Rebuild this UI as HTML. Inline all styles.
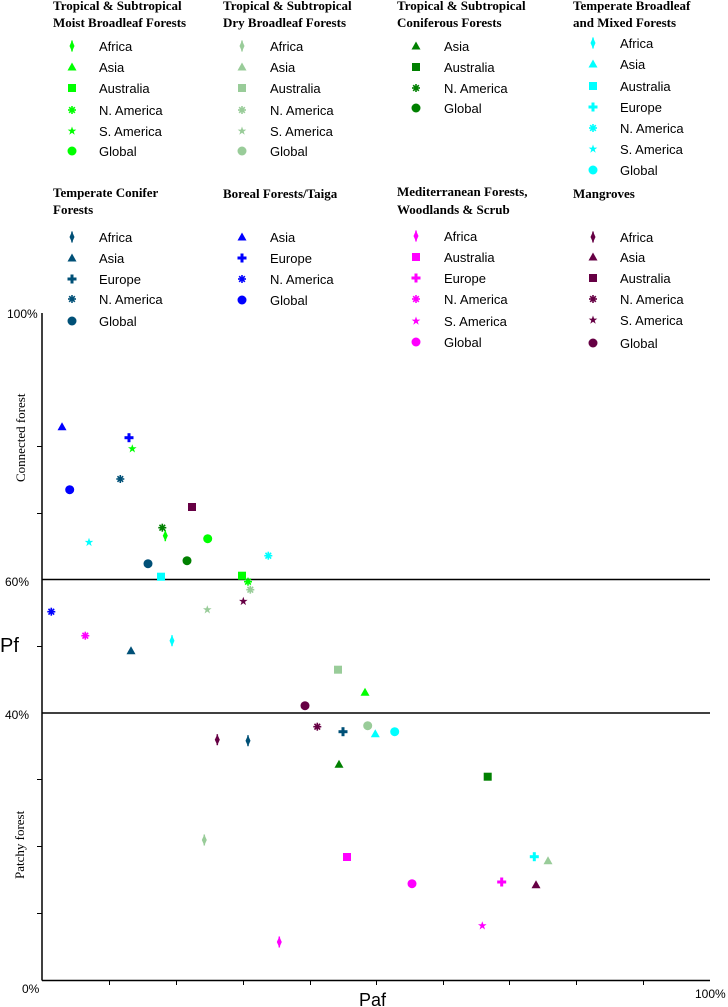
<!DOCTYPE html>
<html><head><meta charset="utf-8"><style>
html,body{margin:0;padding:0;background:#fff;}
svg{display:block;}
.t{font-family:"Liberation Serif",serif;font-weight:bold;font-size:13px;fill:#000;}
.l{font-family:"Liberation Sans",sans-serif;font-size:13px;fill:#000;}
.a{font-family:"Liberation Sans",sans-serif;font-size:12px;fill:#000;}
.s{font-family:"Liberation Serif",serif;font-size:13px;fill:#000;}
</style></head><body>
<svg width="728" height="1007" viewBox="0 0 728 1007" xmlns="http://www.w3.org/2000/svg">
<defs>
<g id="sq"><rect x="-4" y="-4" width="8" height="8"/></g>
<g id="ci"><circle cx="0" cy="0" r="4.5"/></g>
<g id="tr"><polygon points="0,-4.5 4.5,3.5 -4.5,3.5"/></g>
<g id="di"><polygon points="0,-5.5 2.5,0 0,5.5 -2.5,0"/><rect x="-0.75" y="-5.5" width="1.5" height="11"/></g>
<g id="pl"><rect x="-4.5" y="-1.5" width="9" height="3"/><rect x="-1.5" y="-4.5" width="3" height="9"/></g>
<g id="as"><rect x="-0.8" y="-4" width="1.6" height="8"/><rect x="-4" y="-0.8" width="8" height="1.6"/><rect x="-0.8" y="-4" width="1.6" height="8" transform="rotate(45)"/><rect x="-0.8" y="-4" width="1.6" height="8" transform="rotate(-45)"/><circle r="1.8"/></g>
<g id="st"><polygon points="0,-4.5 1.1,-1.4 4.3,-1.4 1.7,0.6 2.7,3.8 0,1.8 -2.7,3.8 -1.7,0.6 -4.3,-1.4 -1.1,-1.4"/></g>
</defs>

<!-- Legend row 1 -->
<text class="t" x="53" y="10">Tropical &amp; Subtropical</text>
<text class="t" x="53" y="27">Moist Broadleaf Forests</text>
<g fill="#00FF00">
<use href="#di" x="72" y="46"/><use href="#tr" x="72" y="67"/><use href="#sq" x="72" y="88"/><use href="#as" x="72" y="110"/><use href="#st" x="72" y="131"/><use href="#ci" x="72" y="151"/>
</g>
<text class="l" x="99" y="51">Africa</text><text class="l" x="99" y="72">Asia</text><text class="l" x="99" y="93">Australia</text><text class="l" x="99" y="115">N. America</text><text class="l" x="99" y="136">S. America</text><text class="l" x="99" y="156">Global</text>

<text class="t" x="223" y="10">Tropical &amp; Subtropical</text>
<text class="t" x="223" y="27">Dry Broadleaf Forests</text>
<g fill="#99CC99">
<use href="#di" x="242" y="46"/><use href="#tr" x="242" y="67"/><use href="#sq" x="242" y="88"/><use href="#as" x="242" y="110"/><use href="#st" x="242" y="131"/><use href="#ci" x="242" y="151"/>
</g>
<text class="l" x="270" y="51">Africa</text><text class="l" x="270" y="72">Asia</text><text class="l" x="270" y="93">Australia</text><text class="l" x="270" y="115">N. America</text><text class="l" x="270" y="136">S. America</text><text class="l" x="270" y="156">Global</text>

<text class="t" x="397" y="10">Tropical &amp; Subtropical</text>
<text class="t" x="397" y="27">Coniferous Forests</text>
<g fill="#008000">
<use href="#tr" x="416" y="46"/><use href="#sq" x="416" y="67"/><use href="#as" x="416" y="88"/><use href="#ci" x="416" y="108"/>
</g>
<text class="l" x="444" y="51">Asia</text><text class="l" x="444" y="72">Australia</text><text class="l" x="444" y="93">N. America</text><text class="l" x="444" y="113">Global</text>

<text class="t" x="573" y="10">Temperate Broadleaf</text>
<text class="t" x="573" y="27">and Mixed Forests</text>
<g fill="#00FFFF">
<use href="#di" x="593" y="43"/><use href="#tr" x="593" y="64"/><use href="#sq" x="593" y="86"/><use href="#pl" x="593" y="107"/><use href="#as" x="593" y="128"/><use href="#st" x="593" y="149"/><use href="#ci" x="593" y="170"/>
</g>
<text class="l" x="620" y="48">Africa</text><text class="l" x="620" y="69">Asia</text><text class="l" x="620" y="91">Australia</text><text class="l" x="620" y="112">Europe</text><text class="l" x="620" y="133">N. America</text><text class="l" x="620" y="154">S. America</text><text class="l" x="620" y="175">Global</text>

<!-- Legend row 2 -->
<text class="t" x="53" y="197">Temperate Conifer</text>
<text class="t" x="53" y="214">Forests</text>
<g fill="#005077">
<use href="#di" x="72" y="237"/><use href="#tr" x="72" y="258"/><use href="#pl" x="72" y="279"/><use href="#as" x="72" y="299"/><use href="#ci" x="72" y="321"/>
</g>
<text class="l" x="99" y="242">Africa</text><text class="l" x="99" y="263">Asia</text><text class="l" x="99" y="284">Europe</text><text class="l" x="99" y="304">N. America</text><text class="l" x="99" y="326">Global</text>

<text class="t" x="223" y="198">Boreal Forests/Taiga</text>
<g fill="#0000FF">
<use href="#tr" x="242" y="237"/><use href="#pl" x="242" y="258"/><use href="#as" x="242" y="279"/><use href="#ci" x="242" y="300"/>
</g>
<text class="l" x="270" y="242">Asia</text><text class="l" x="270" y="263">Europe</text><text class="l" x="270" y="284">N. America</text><text class="l" x="270" y="305">Global</text>

<text class="t" x="397" y="196">Mediterranean Forests,</text>
<text class="t" x="397" y="214">Woodlands &amp; Scrub</text>
<g fill="#FF00FF">
<use href="#di" x="416" y="236"/><use href="#sq" x="416" y="257"/><use href="#pl" x="416" y="278"/><use href="#as" x="416" y="299"/><use href="#st" x="416" y="321"/><use href="#ci" x="416" y="342"/>
</g>
<text class="l" x="444" y="241">Africa</text><text class="l" x="444" y="262">Australia</text><text class="l" x="444" y="283">Europe</text><text class="l" x="444" y="304">N. America</text><text class="l" x="444" y="326">S. America</text><text class="l" x="444" y="347">Global</text>

<text class="t" x="573" y="198">Mangroves</text>
<g fill="#660044">
<use href="#di" x="593" y="237"/><use href="#tr" x="593" y="257"/><use href="#sq" x="593" y="278"/><use href="#as" x="593" y="299"/><use href="#st" x="593" y="320"/><use href="#ci" x="593" y="343"/>
</g>
<text class="l" x="620" y="242">Africa</text><text class="l" x="620" y="262">Asia</text><text class="l" x="620" y="283">Australia</text><text class="l" x="620" y="304">N. America</text><text class="l" x="620" y="325">S. America</text><text class="l" x="620" y="348">Global</text>

<!-- Axes -->
<g stroke="#000" stroke-width="1.5" fill="none">
<line x1="42" y1="313" x2="42" y2="980.5"/>
<line x1="42" y1="980.5" x2="710" y2="980.5"/>
<line x1="42" y1="579.5" x2="710" y2="579.5"/>
<line x1="42" y1="713" x2="710" y2="713"/>
</g>
<g stroke="#000" stroke-width="1">
<line x1="37" y1="446.5" x2="42" y2="446.5"/>
<line x1="37" y1="513.5" x2="42" y2="513.5"/>
<line x1="37" y1="646.5" x2="42" y2="646.5"/>
<line x1="37" y1="779.5" x2="42" y2="779.5"/>
<line x1="37" y1="846.5" x2="42" y2="846.5"/>
<line x1="37" y1="913.5" x2="42" y2="913.5"/>
<line x1="109.5" y1="980" x2="109.5" y2="985"/>
<line x1="176.5" y1="980" x2="176.5" y2="985"/>
<line x1="243.5" y1="980" x2="243.5" y2="985"/>
<line x1="310.5" y1="980" x2="310.5" y2="985"/>
<line x1="376.5" y1="980" x2="376.5" y2="985"/>
<line x1="443.5" y1="980" x2="443.5" y2="985"/>
<line x1="509.5" y1="980" x2="509.5" y2="985"/>
<line x1="576.5" y1="980" x2="576.5" y2="985"/>
<line x1="643.5" y1="980" x2="643.5" y2="985"/>
</g>
<text class="a" x="7" y="318">100%</text>
<text class="a" x="5" y="586">60%</text>
<text class="a" x="5" y="719">40%</text>
<text class="a" x="22" y="993">0%</text>
<text class="a" x="695" y="998">100%</text>
<text x="0" y="652" style="font-family:'Liberation Sans',sans-serif;font-size:20px;">Pf</text>
<text x="359" y="1006" style="font-family:'Liberation Sans',sans-serif;font-size:18px;">Paf</text>
<text class="s" transform="translate(25,482) rotate(-90)">Connected forest</text>
<text class="s" transform="translate(24,879) rotate(-90)">Patchy forest</text>

<!-- Data points -->
<g fill="#00FF00">
<use href="#di" x="165.3" y="535.7"/><use href="#tr" x="365" y="692.3"/><use href="#sq" x="242" y="575.7"/><use href="#as" x="248" y="581.7"/><use href="#st" x="132.3" y="448.7"/><use href="#ci" x="207.7" y="538.7"/>
</g>
<g fill="#99CC99">
<use href="#di" x="204.3" y="840"/><use href="#tr" x="548" y="860.7"/><use href="#sq" x="338" y="669.7"/><use href="#as" x="250.3" y="589.7"/><use href="#st" x="207.3" y="609.7"/><use href="#ci" x="367.7" y="725.7"/>
</g>
<g fill="#008000">
<use href="#tr" x="339" y="764.3"/><use href="#sq" x="487.7" y="776.7"/><use href="#as" x="162.3" y="527.7"/><use href="#ci" x="187" y="560.7"/>
</g>
<g fill="#00FFFF">
<use href="#di" x="172" y="640.7"/><use href="#tr" x="375.3" y="733.7"/><use href="#sq" x="161" y="576.7"/><use href="#pl" x="534.3" y="856.7"/><use href="#as" x="268.3" y="555.7"/><use href="#st" x="89" y="542.3"/><use href="#ci" x="394.7" y="731.7"/>
</g>
<g fill="#005077">
<use href="#di" x="248" y="740.7"/><use href="#tr" x="131" y="650.7"/><use href="#pl" x="343" y="731.7"/><use href="#as" x="120.3" y="479"/><use href="#ci" x="148" y="563.7"/>
</g>
<g fill="#0000FF">
<use href="#tr" x="62" y="426.7"/><use href="#pl" x="129" y="437.7"/><use href="#as" x="51.3" y="611.7"/><use href="#ci" x="69.7" y="489.7"/>
</g>
<g fill="#FF00FF">
<use href="#di" x="279.3" y="942"/><use href="#sq" x="347" y="857"/><use href="#pl" x="501.7" y="882"/><use href="#as" x="85.3" y="635.7"/><use href="#st" x="482.3" y="925.7"/><use href="#ci" x="412" y="883.7"/>
</g>
<g fill="#660044">
<use href="#di" x="217.3" y="739.7"/><use href="#tr" x="536" y="884.7"/><use href="#sq" x="192" y="507"/><use href="#as" x="317.3" y="726.7"/><use href="#st" x="243.3" y="601.3"/><use href="#ci" x="305" y="705.7"/>
</g>
</svg>
</body></html>
